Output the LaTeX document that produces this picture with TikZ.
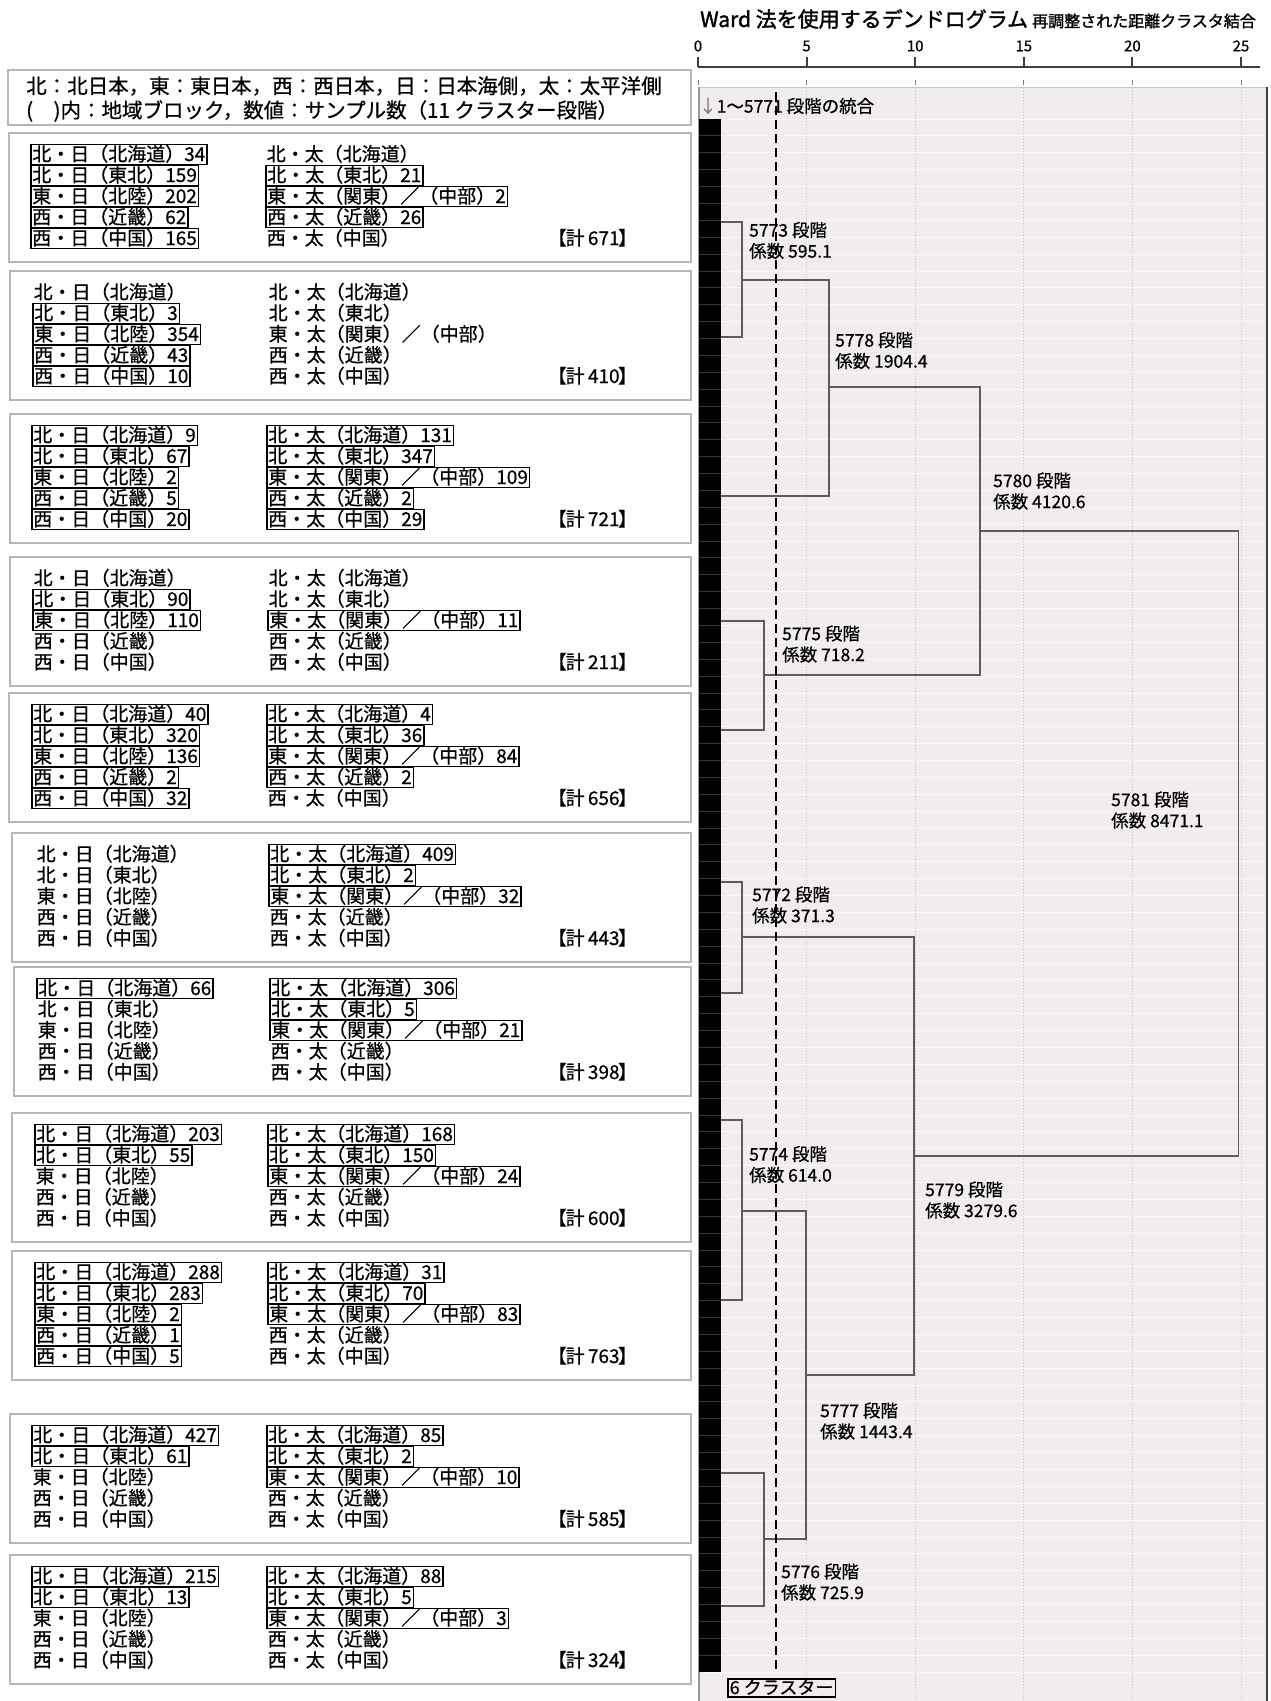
\documentclass[tikz,border=0pt]{standalone}
\usepackage{fontspec}
\setmainfont{Noto Sans CJK JP}[FakeBold=0.6]
\newfontfamily\jpb[FakeBold=1.6]{Noto Sans CJK JP}
\definecolor{panel}{RGB}{240,236,240}
\definecolor{panelline}{RGB}{249,247,249}
\definecolor{barline}{RGB}{58,54,54}
\definecolor{boxgray}{RGB}{182,182,182}
\definecolor{dline}{RGB}{92,92,92}
\definecolor{gridc}{RGB}{198,198,198}
\definecolor{axisc}{RGB}{62,62,62}
\tikzset{
  ent/.style={anchor=west, inner xsep=1.5pt, inner ysep=0.5pt, text height=16pt, text depth=3pt, font=\fontsize{19}{21}\selectfont},
  fr/.style={draw=black, line width=1.5pt},
  nf/.style={},
  boxframe/.style={draw=boxgray, line width=2pt, fill=white, inner sep=0pt, anchor=north west},
  lbl/.style={anchor=west, inner sep=0pt, align=left, font=\fontsize{17.5}{21}\selectfont},
  dend/.style={draw=dline, line width=1.5pt},
  axnum/.style={inner sep=0pt, font=\fontsize{15}{17}\selectfont},
}
\newcommand\cbox[8]{%
  \node[boxframe, minimum width={690-#3}, minimum height=129] (#1) at (#3,#2) {};
  \foreach \entx/\ensty [count=\eni from 0] in {#7} {\node[ent,\ensty] (#1a\eni) at (#4,{#2+22.5+21*\eni}) {\entx};}
  \foreach \entx/\ensty [count=\eni from 0] in {#8} {\node[ent,\ensty] (#1b\eni) at (#5,{#2+22.5+21*\eni}) {\entx};}
  \node[ent] (#1t) at (546,{#2+22.5+84}) {【\kern-1pt 計\kern-1pt{} #6\kern-1.5pt】};
}
\begin{document}
\begin{tikzpicture}[x=1pt,y=-1pt]
\useasboundingbox (0,0) rectangle (1270,1701);
\fill[white] (0,0) rectangle (1270,1701);

% ---------- title and axis ----------
\node[anchor=west, inner sep=0pt, font=\jpb\fontsize{21}{24}\selectfont] (title) at (700,19) {Ward 法を使用するデンドログラム};
\node[anchor=west, inner sep=0pt, font=\jpb\fontsize{16}{18}\selectfont] (subtitle) at (1032,21) {再調整された距離クラスタ結合};
\draw[axisc, line width=2.5pt] (698,67) -- (1260,67);
\foreach \v/\x in {0/698,5/806.6,10/915.2,15/1023.8,20/1132.4,25/1241} {
  \draw[axisc, line width=2pt] (\x,67) -- (\x,57);
  \node[axnum] (ax\v) at (\x,46) {\v};
}

% ---------- dendrogram panel ----------
\fill[panel] (699,87) rectangle (1267,1701);
\foreach \k in {0,...,92} {\draw[panelline, line width=0.8pt] (699,{119+16.88*\k}) -- (1266,{119+16.88*\k});}
\foreach \x in {806.6,915.2,1023.8,1132.4,1241} {
  \draw[gridc, dotted, line width=1pt] (\x,88) -- (\x,1701);
  \draw[gray, line width=0.8pt] (\x,80) -- (\x,85);
}
\draw[gray, line width=0.8pt] (698,80) -- (698,85);
\draw[gridc, line width=1pt] (699,87) -- (1267,87);
\draw[gray!80, line width=1.2pt] (699,87) -- (699,1701);
\draw[axisc, line width=2.5pt] (1267,87) -- (1267,1701);

% black leaf bar
\fill[black] (699,119) rectangle (721,1672);
\foreach \k in {1,...,91} {\draw[barline, line width=0.8pt] (699,{119+16.88*\k}) -- (721,{119+16.88*\k});}

\node[lbl] (range) at (699,106) {{\color{gray}↓}1～5771 段階の統合};

% leaves
\coordinate (L1) at (721,222);
\coordinate (L2) at (721,337);
\coordinate (L3) at (721,496);
\coordinate (L4) at (721,621);
\coordinate (L5) at (721,730);
\coordinate (L6) at (721,882);
\coordinate (L7) at (721,993);
\coordinate (L8) at (721,1120);
\coordinate (L9) at (721,1300);
\coordinate (L10) at (721,1473);
\coordinate (L11) at (721,1606);
% merges
\coordinate (m5773) at (742,280);
\coordinate (m5778) at (829,387);
\coordinate (m5780) at (980,531);
\coordinate (m5775) at (764,675);
\coordinate (m5781) at (1238.5,843);
\coordinate (m5772) at (742,937);
\coordinate (m5779) at (914,1156);
\coordinate (m5774) at (742,1211);
\coordinate (m5777) at (806,1375);
\coordinate (m5776) at (764,1539);

\draw[dend] (L1) -| (m5773) |- (L2);
\draw[dend] (m5773) -| (m5778) |- (L3);
\draw[dend] (L4) -| (m5775) |- (L5);
\draw[dend] (m5778) -| (m5780) |- (m5775);
\draw[dend] (m5780) -| (m5781) |- (m5779);
\draw[dend] (L6) -| (m5772) |- (L7);
\draw[dend] (L8) -| (m5774) |- (L9);
\draw[dend] (L10) -| (m5776) |- (L11);
\draw[dend] (m5774) -| (m5777) |- (m5776);
\draw[dend] (m5772) -| (m5779) |- (m5777);

% labels
\node[lbl] (t5773) at (749,240.5) {5773 段階\\係数 595.1};
\node[lbl] (t5778) at (835,350.5) {5778 段階\\係数 1904.4};
\node[lbl] (t5780) at (993,491) {5780 段階\\係数 4120.6};
\node[lbl] (t5775) at (782,644) {5775 段階\\係数 718.2};
\node[lbl] (t5781) at (1111,810) {5781 段階\\係数 8471.1};
\node[lbl] (t5772) at (752,905) {5772 段階\\係数 371.3};
\node[lbl] (t5774) at (749,1164.5) {5774 段階\\係数 614.0};
\node[lbl] (t5779) at (925,1200) {5779 段階\\係数 3279.6};
\node[lbl] (t5777) at (820,1421) {5777 段階\\係数 1443.4};
\node[lbl] (t5776) at (781,1582) {5776 段階\\係数 725.9};

% cut line
\coordinate (cutT) at (776,92);
\coordinate (cutB) at (776,1672);
\draw[black, line width=2.2pt, dash pattern=on 9pt off 5pt] (cutT) -- (cutB);

\node[draw=black, line width=1.5pt, anchor=west, inner xsep=2pt, inner ysep=0pt, text height=15pt, text depth=3pt, font=\fontsize{18}{20}\selectfont] (six) at (727,1688) {6 クラスター};

% ---------- legend ----------
\node[boxframe, minimum width=683, minimum height=55] (hdr) at (7,69) {};
\node[anchor=west, inner sep=0pt, font=\fontsize{20.5}{24}\selectfont] (hdr1) at (26,86) {北：北日本，東：東日本，西：西日本，日：日本海側，太：太平洋側};
\node[anchor=west, inner sep=0pt, font=\fontsize{20.5}{24}\selectfont] (hdr2) at (26,111) {(　)内：地域ブロック，数値：サンプル数（11 クラスター段階）};

% ---------- cluster boxes ----------
\cbox{c1}{132}{8}{30}{265}{671}
 {北・日（北海道）34/fr, 北・日（東北）159/fr, 東・日（北陸）202/fr, 西・日（近畿）62/fr, 西・日（中国）165/fr}
 {北・太（北海道）/nf, 北・太（東北）21/fr, 東・太（関東）／（中部）2/fr, 西・太（近畿）26/fr, 西・太（中国）/nf}
\cbox{c2}{270}{9}{32}{267}{410}
 {北・日（北海道）/nf, 北・日（東北）3/fr, 東・日（北陸）354/fr, 西・日（近畿）43/fr, 西・日（中国）10/fr}
 {北・太（北海道）/nf, 北・太（東北）/nf, 東・太（関東）／（中部）/nf, 西・太（近畿）/nf, 西・太（中国）/nf}
\cbox{c3}{413}{9}{31}{266}{721}
 {北・日（北海道）9/fr, 北・日（東北）67/fr, 東・日（北陸）2/fr, 西・日（近畿）5/fr, 西・日（中国）20/fr}
 {北・太（北海道）131/fr, 北・太（東北）347/fr, 東・太（関東）／（中部）109/fr, 西・太（近畿）2/fr, 西・太（中国）29/fr}
\cbox{c4}{556}{9}{32}{267}{211}
 {北・日（北海道）/nf, 北・日（東北）90/fr, 東・日（北陸）110/fr, 西・日（近畿）/nf, 西・日（中国）/nf}
 {北・太（北海道）/nf, 北・太（東北）/nf, 東・太（関東）／（中部）11/fr, 西・太（近畿）/nf, 西・太（中国）/nf}
\cbox{c5}{692}{8}{31}{266}{656}
 {北・日（北海道）40/fr, 北・日（東北）320/fr, 東・日（北陸）136/fr, 西・日（近畿）2/fr, 西・日（中国）32/fr}
 {北・太（北海道）4/fr, 北・太（東北）36/fr, 東・太（関東）／（中部）84/fr, 西・太（近畿）2/fr, 西・太（中国）/nf}
\cbox{c6}{832}{11}{35}{268}{443}
 {北・日（北海道）/nf, 北・日（東北）/nf, 東・日（北陸）/nf, 西・日（近畿）/nf, 西・日（中国）/nf}
 {北・太（北海道）409/fr, 北・太（東北）2/fr, 東・太（関東）／（中部）32/fr, 西・太（近畿）/nf, 西・太（中国）/nf}
\cbox{c7}{966}{13}{36}{269}{398}
 {北・日（北海道）66/fr, 北・日（東北）/nf, 東・日（北陸）/nf, 西・日（近畿）/nf, 西・日（中国）/nf}
 {北・太（北海道）306/fr, 北・太（東北）5/fr, 東・太（関東）／（中部）21/fr, 西・太（近畿）/nf, 西・太（中国）/nf}
\cbox{c8}{1112}{11}{34}{267}{600}
 {北・日（北海道）203/fr, 北・日（東北）55/fr, 東・日（北陸）/nf, 西・日（近畿）/nf, 西・日（中国）/nf}
 {北・太（北海道）168/fr, 北・太（東北）150/fr, 東・太（関東）／（中部）24/fr, 西・太（近畿）/nf, 西・太（中国）/nf}
\cbox{c9}{1250}{11}{34}{267}{763}
 {北・日（北海道）288/fr, 北・日（東北）283/fr, 東・日（北陸）2/fr, 西・日（近畿）1/fr, 西・日（中国）5/fr}
 {北・太（北海道）31/fr, 北・太（東北）70/fr, 東・太（関東）／（中部）83/fr, 西・太（近畿）/nf, 西・太（中国）/nf}
\cbox{c10}{1413}{9}{31}{266}{585}
 {北・日（北海道）427/fr, 北・日（東北）61/fr, 東・日（北陸）/nf, 西・日（近畿）/nf, 西・日（中国）/nf}
 {北・太（北海道）85/fr, 北・太（東北）2/fr, 東・太（関東）／（中部）10/fr, 西・太（近畿）/nf, 西・太（中国）/nf}
\cbox{c11}{1554}{9}{31}{266}{324}
 {北・日（北海道）215/fr, 北・日（東北）13/fr, 東・日（北陸）/nf, 西・日（近畿）/nf, 西・日（中国）/nf}
 {北・太（北海道）88/fr, 北・太（東北）5/fr, 東・太（関東）／（中部）3/fr, 西・太（近畿）/nf, 西・太（中国）/nf}
\end{tikzpicture}
\end{document}
